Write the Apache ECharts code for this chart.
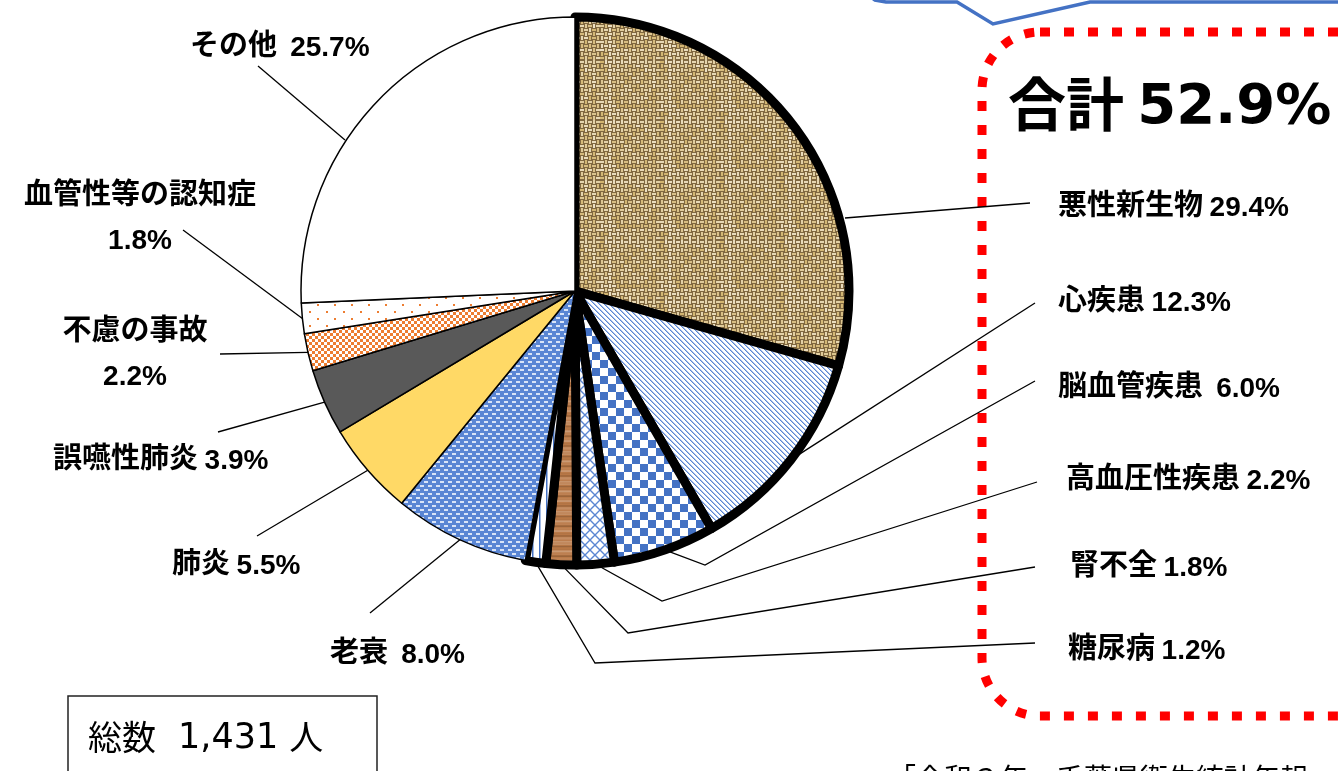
<!DOCTYPE html>
<html>
<head>
<meta charset="utf-8">
<script src="https://cdn.jsdelivr.net/npm/echarts@6/dist/echarts.min.js"></script>
<style>
html,body{margin:0;padding:0;background:#fff;}
#chart{width:1338px;height:771px;}
</style>
</head>
<body>
<div id="chart"></div>
<script>
// ---------------- DATA ----------------
const categories = ['悪性新生物','心疾患','脳血管疾患','高血圧性疾患','腎不全','糖尿病','老衰','肺炎','誤嚥性肺炎','不慮の事故','血管性等の認知症','その他'];
const percentages = [29.4, 12.3, 6.0, 2.2, 1.8, 1.2, 8.0, 5.5, 3.9, 2.2, 1.8, 25.7];
const groupedCount = 6;           // first six causes form the "合計" group
const totalDeaths = 1431;
const totalLabel = '総数';
const totalUnit = '人';
const groupLabel = '合計';
const sourceNote = '「令和３年　千葉県衛生統計年報」より';

// ---------------- LAYOUT (positions only) ----------------
const LABEL_LAYOUT = [
  {x:1058, y:204, align:'left', gap:1, from:[845,218], to:[1030,203]},
  {x:1058, y:299, align:'left', gap:1, to:[1035,303]},
  {x:1058, y:385, align:'left', gap:2, bend:[705,565], to:[1035,381]},
  {x:1066, y:477, align:'left', gap:1, bend:[662,601], to:[1037,482]},
  {x:1070, y:564, align:'left', gap:1, bend:[628,633], to:[1035,567]},
  {x:1068, y:647, align:'left', gap:1, bend:[595,663], to:[1035,643]},
  {x:330,  y:651, align:'left', gap:2, to:[370,613]},
  {x:172,  y:562, align:'left', gap:1, to:[257,536]},
  {x:53,   y:457, align:'left', gap:1, to:[218,432]},
  {x:135,  y:351, align:'center', two:true, to:[220,354]},
  {x:140,  y:215, align:'center', two:true, to:[183,230]},
  {x:190,  y:44,  align:'left', gap:2, from:[345,140], to:[258,66]}
];

const CJK = '"Noto Sans CJK JP", "Noto Sans CJK SC", sans-serif';
const NUM = '"Liberation Sans", Arial, sans-serif';
const WIDE = '"DejaVu Sans", sans-serif';

// ---------------- FILL PATTERNS ----------------
function makeCanvas(w, h, draw) {
  const c = document.createElement('canvas');
  c.width = w; c.height = h;
  draw(c.getContext('2d'), w, h);
  return c;
}
const BLUE = '#4472C4';
const ORANGE = '#ED7D31';

const burlap = makeCanvas(60, 60, g => {
  g.fillStyle = '#806840'; g.fillRect(0, 0, 60, 60);
  for (let j = 0; j < 15; j++) for (let i = 0; i < 15; i++) {
    const v = ((i * 73 + j * 151 + i * j * 17) % 37) / 37;
    g.fillStyle = 'hsl(42, 52%, ' + (63 + v * 22).toFixed(1) + '%)';
    const x = i * 4, y = j * 4;
    if ((i + j) % 2 === 0) g.fillRect(x, y + 1, 4, 2); else g.fillRect(x + 1, y, 2, 4);
  }
});
const diag = makeCanvas(5, 5, g => {
  g.fillStyle = '#fff'; g.fillRect(0, 0, 5, 5);
  g.fillStyle = '#5b86d2';
  for (let k = 0; k < 5; k++) g.fillRect(k, k, 1, 1);
  g.fillStyle = '#a9c0ea';
  for (let k = 0; k < 5; k++) g.fillRect((k + 1) % 5, k, 1, 1);
});
const checker = makeCanvas(16, 16, g => {
  g.fillStyle = '#fff'; g.fillRect(0, 0, 16, 16);
  g.fillStyle = BLUE; g.fillRect(0, 0, 8, 8); g.fillRect(8, 8, 8, 8);
});
const lattice = makeCanvas(10, 10, g => {
  g.fillStyle = '#fff'; g.fillRect(0, 0, 10, 10);
  g.strokeStyle = '#5b86d2'; g.lineWidth = 1.4;
  g.beginPath(); g.moveTo(0, 0); g.lineTo(10, 10); g.moveTo(10, 0); g.lineTo(0, 10); g.stroke();
});
const wood = makeCanvas(20, 30, g => {
  for (let y = 0; y < 30; y++) {
    const l = 52 + 7 * Math.sin(y * 0.7) + 4 * Math.sin(y * 1.9);
    g.fillStyle = 'hsl(26, 45%, ' + l.toFixed(1) + '%)';
    g.fillRect(0, y, 20, 1);
  }
});
const vlines = makeCanvas(7, 4, g => {
  g.fillStyle = '#fff'; g.fillRect(0, 0, 7, 4);
  g.fillStyle = BLUE; g.fillRect(0, 0, 1.5, 4);
});
const dashes = makeCanvas(8, 8, g => {
  g.fillStyle = '#5a86d4'; g.fillRect(0, 0, 8, 8);
  g.fillStyle = '#d9e4f7'; g.fillRect(0, 1, 4, 2); g.fillRect(4, 5, 4, 2);
});
const orangeChecker = makeCanvas(6, 6, g => {
  g.fillStyle = ORANGE; g.fillRect(0, 0, 6, 6);
  g.fillStyle = '#fff'; g.fillRect(0, 0, 3, 3); g.fillRect(3, 3, 3, 3);
});
const orangeDots = makeCanvas(17, 14, g => {
  g.fillStyle = '#fff'; g.fillRect(0, 0, 17, 14);
  g.fillStyle = ORANGE; g.fillRect(3, 3, 2, 2); g.fillRect(11, 10, 2, 2);
});
const pat = c => ({ image: c, repeat: 'repeat' });
const FILLS = [pat(burlap), pat(diag), pat(checker), pat(lattice), pat(wood), pat(vlines),
               pat(dashes), '#FFD966', '#595959', pat(orangeChecker), pat(orangeDots), '#ffffff'];

// ---------------- CHART ----------------
const groupSum = percentages.slice(0, groupedCount).reduce((a, b) => a + b, 0);

const chart = echarts.init(document.getElementById('chart'), null, { renderer: 'canvas' });
chart.setOption({
  animation: false,
  backgroundColor: '#ffffff',
  series: [{
    type: 'pie',
    center: [575, 291],
    radius: 274,
    startAngle: 90,
    clockwise: true,
    silent: true,
    avoidLabelOverlap: false,
    data: categories.map((name, i) => ({
      name: name,
      value: percentages[i],
      itemStyle: {
        color: FILLS[i],
        borderColor: '#000',
        borderWidth: i < groupedCount ? 9 : 1.5
      }
    })),
    label: {
      show: true,
      position: 'outer',
      color: '#000',
      formatter: function (p) {
        const L = LABEL_LAYOUT[p.dataIndex];
        const pct = p.value.toFixed(1) + '%';
        if (L.two) return '{n|' + p.name + '}\n{p|' + pct + '}';
        return '{n|' + p.name + (L.gap === 2 ? '  ' : ' ') + '}{p|' + pct + '}';
      },
      rich: {
        n: { fontFamily: CJK, fontWeight: 'bold', fontSize: 29, color: '#000', lineHeight: 44 },
        p: { fontFamily: NUM, fontWeight: 'bold', fontSize: 28, color: '#000', lineHeight: 44, padding: [8, 0, 0, 0] }
      }
    },
    labelLine: { show: true, length: 10, length2: 10, lineStyle: { color: '#000', width: 1.3 } },
    labelLayout: function (params) {
      const L = LABEL_LAYOUT[params.dataIndex];
      const start = L.from || params.labelLinePoints[0];
      const pts = [start];
      if (L.bend) pts.push(L.bend);
      pts.push(L.to);
      return { x: L.x, y: L.y, align: L.align, verticalAlign: 'middle', labelLinePoints: pts };
    }
  }],
  graphic: [
    { type: 'polyline', silent: true,
      shape: { points: [[864, -14], [868, -5], [875, 0], [886, 2], [957, 2], [993, 24], [1090, 2], [1345, 2]] },
      style: { fill: null, stroke: BLUE, lineWidth: 3.5 } },
    { type: 'rect', silent: true,
      shape: { x: 982, y: 32, width: 430, height: 684, r: 58 },
      style: { fill: null, stroke: '#FF0000', lineWidth: 9, lineDash: [10, 14] } },
    { type: 'text', silent: true, x: 1008, y: 104,
      style: {
        text: '{a|' + groupLabel + ' }{b|' + groupSum.toFixed(1) + '%}',
        verticalAlign: 'middle',
        rich: {
          a: { fontFamily: CJK, fontWeight: 'bold', fontSize: 58, fill: '#000' },
          b: { fontFamily: WIDE, fontWeight: 'bold', fontSize: 56, fill: '#000', padding: [8, 0, 0, 0] }
        }
      } },
    { type: 'rect', silent: true,
      shape: { x: 68, y: 696, width: 309, height: 120 },
      style: { fill: '#fff', stroke: '#222', lineWidth: 1.5 } },
    { type: 'text', silent: true, x: 88, y: 737,
      style: {
        text: '{a|' + totalLabel + '}{b|' + totalDeaths.toLocaleString('en-US') + ' }{a|' + totalUnit + '}',
        verticalAlign: 'middle',
        rich: {
          a: { fontFamily: CJK, fontSize: 34, fill: '#000' },
          b: { fontFamily: WIDE, fontSize: 35, fill: '#000', padding: [4, 0, 0, 22] }
        }
      } },
    { type: 'text', silent: true, x: 888, y: 778,
      style: { text: sourceNote, fontFamily: CJK, fontSize: 28, fill: '#000', verticalAlign: 'middle' } }
  ]
});
</script>
</body>
</html>
